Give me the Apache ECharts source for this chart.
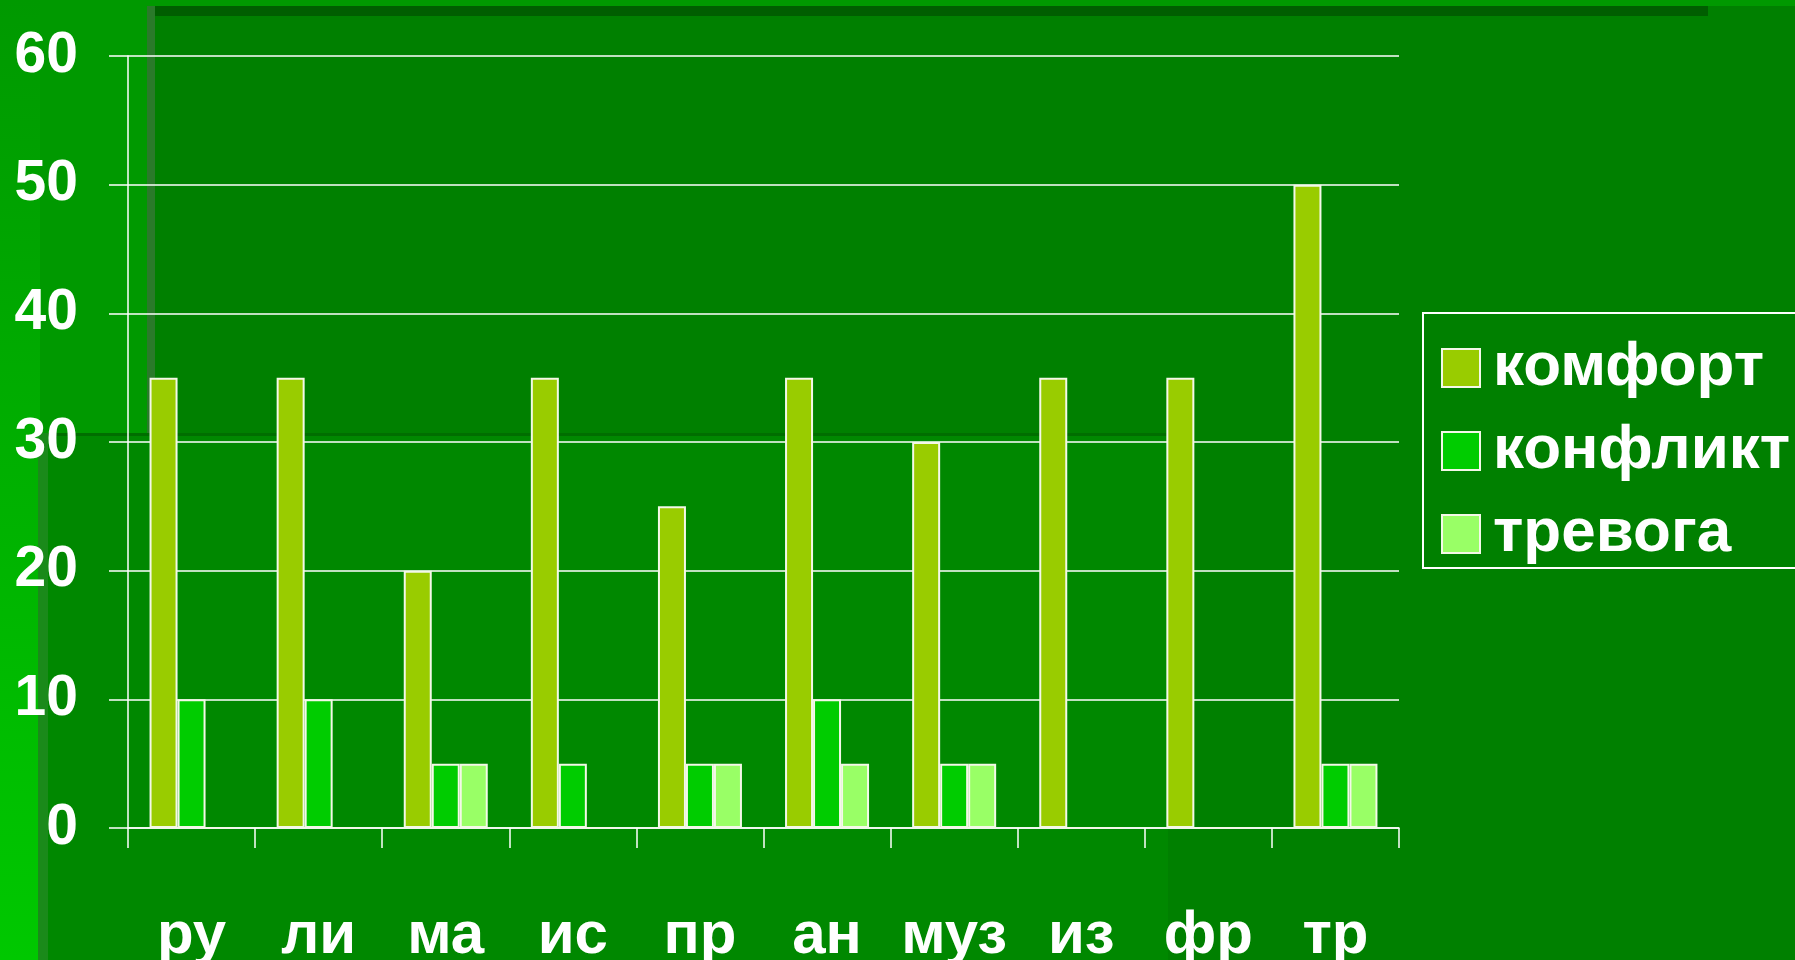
<!DOCTYPE html>
<html>
<head>
<meta charset="utf-8">
<title>комфорт / конфликт / тревога</title>
<script src="https://cdn.jsdelivr.net/npm/echarts@6/dist/echarts.min.js"></script>
<style>
  html, body { margin: 0; padding: 0; background: #009900; }
  #main { width: 1795px; height: 960px; }
</style>
</head>
<body>
<div id="main"></div>
<script>
var categories = ['ру', 'ли', 'ма', 'ис', 'пр', 'ан', 'муз', 'из', 'фр', 'тр'];
var seriesNames = ['комфорт', 'конфликт', 'тревога'];
var comfort  = [35, 35, 20, 35, 25, 35, 30, 35, 35, 50];
var conflict = [10, 10, 5, 5, 5, 10, 5, 0, 0, 5];
var anxiety  = [0, 0, 5, 0, 5, 5, 5, 0, 0, 5];
var yTicks = { min: 0, max: 60, interval: 10 };

(function () {
  var font = '"Liberation Sans", Arial, sans-serif';
  var chart = echarts.init(document.getElementById('main'));

  function bar(name, values, color) {
    return {
      name: name,
      type: 'bar',
      data: values,
      barWidth: 28,
      barGap: '0%',
      itemStyle: { color: color, borderColor: '#f4f8e8', borderWidth: 2 }
    };
  }

  // slide background: a few overlapping green panels
  var bg = [
    { type: 'rect', shape: { x: 0, y: 0, width: 1795, height: 960 },
      style: { fill: new echarts.graphic.LinearGradient(0, 0, 0, 1, [
        { offset: 0, color: '#009900' }, { offset: 1, color: '#00c800' }]) } },
    { type: 'rect', shape: { x: 40, y: 0, width: 1755, height: 960 }, style: { fill: '#009900' } },
    { type: 'rect', shape: { x: 147, y: 6, width: 1648, height: 954 }, style: { fill: '#2a7a2a' } },
    { type: 'rect', shape: { x: 155, y: 6, width: 1640, height: 954 }, style: { fill: '#008000' } },
    { type: 'rect', shape: { x: 155, y: 6, width: 1553, height: 10 }, style: { fill: '#005e00' } },
    { type: 'rect', shape: { x: 38, y: 433, width: 1130, height: 527 }, style: { fill: '#1a8a1a' } },
    { type: 'rect', shape: { x: 48, y: 436, width: 1120, height: 524 }, style: { fill: '#008800' } },
    { type: 'rect', shape: { x: 48, y: 433, width: 1120, height: 3 }, style: { fill: '#006e00' } }
  ];
  bg.forEach(function (g) { g.z = -10; g.silent = true; });

  var option = {
    backgroundColor: '#009900',
    animation: false,
    graphic: bg,
    grid: { left: 128, right: 396, top: 56, bottom: 132, containLabel: false, outerBoundsMode: 'none' },
    legend: {
      orient: 'vertical',
      left: 1423,
      top: 313,
      padding: [24, 60, 3, 18],
      icon: 'rect',
      itemWidth: 38,
      itemHeight: 38,
      itemGap: 21,
      borderColor: '#ffffff',
      borderWidth: 2,
      data: seriesNames,
      textStyle: { color: '#ffffff', fontSize: 62, fontWeight: 'bold', fontFamily: font, padding: [0, 0, 0, 8] }
    },
    xAxis: {
      type: 'category',
      data: categories,
      axisLine: { lineStyle: { color: '#ffffff', width: 1.5 } },
      axisTick: { show: true, alignWithLabel: false, length: 20, lineStyle: { color: '#ffffff', width: 1.5 } },
      axisLabel: { color: '#ffffff', fontSize: 60, fontWeight: 'bold', fontFamily: font, margin: 78, interval: 0 }
    },
    yAxis: {
      type: 'value',
      min: yTicks.min,
      max: yTicks.max,
      interval: yTicks.interval,
      axisLine: { show: true, lineStyle: { color: '#ffffff', width: 1.5 } },
      axisTick: { show: true, inside: false, length: 19, lineStyle: { color: '#ffffff', width: 1.5 } },
      splitLine: { show: true, lineStyle: { color: '#ffffff', width: 1.5 } },
      axisLabel: { color: '#ffffff', fontSize: 57, fontWeight: 'bold', fontFamily: font, margin: 50, padding: [10, 0, 0, 0] }
    },
    series: [
      bar(seriesNames[0], comfort, '#99cc00'),
      bar(seriesNames[1], conflict, '#00cc00'),
      bar(seriesNames[2], anxiety, '#99ff66')
    ]
  };

  chart.setOption(option);
})();
</script>
</body>
</html>
